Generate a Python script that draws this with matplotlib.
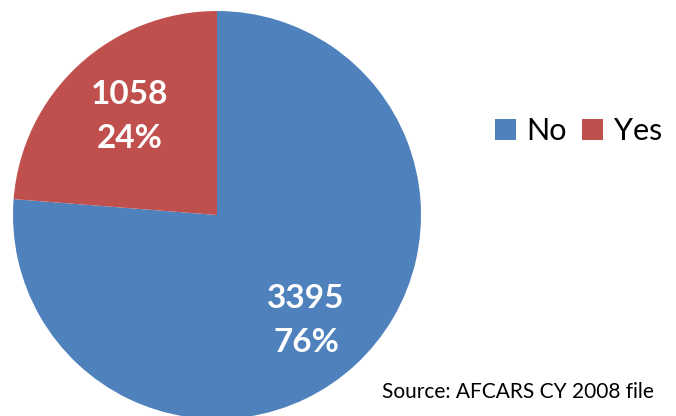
import matplotlib
matplotlib.use("Agg")
import matplotlib.pyplot as plt
from matplotlib.patches import Patch

categories = ["No", "Yes"]
counts = [3395, 1058]
percents = ["76%", "24%"]
colors = ["#4F81BD", "#C0504D"]
source_text = "Source: AFCARS CY 2008 file"

W, H = 676, 416
fig = plt.figure(figsize=(W / 100, H / 100), dpi=100)
fig.patch.set_facecolor("white")

cx, cy, r = 217, 215, 204
ax = fig.add_axes([(cx - r) / W, (H - cy - r) / H, 2 * r / W, 2 * r / H])
wedges, _ = ax.pie(counts, colors=colors, startangle=90, counterclock=False,
                   radius=1.0, wedgeprops=dict(linewidth=0))
ax.set_xlim(-1, 1)
ax.set_ylim(-1, 1)
ax.set_aspect("equal")
ax.axis("off")

font = "Lato"
# label centres in pixels: (x, y of count line, y of percent line)
label_px = [(306, 298, 343), (130, 95, 139)]
for (x, y1, y2), c, p in zip(label_px, counts, percents):
    ax.text((x - cx) / r, (cy - y1) / r, f"{c}", ha="center", va="center",
            color="white", fontsize=24, fontweight="bold", family=font)
    ax.text((x - cx) / r, (cy - y2) / r, p, ha="center", va="center",
            color="white", fontsize=24, fontweight="bold", family=font)

handles = [Patch(facecolor=col, edgecolor="none") for col in colors]
fig.legend(handles, categories, loc="center left",
           bbox_to_anchor=(495 / W, 1 - 131 / H), ncol=2, frameon=False,
           prop={"family": font, "size": 22}, handlelength=0.68, handleheight=0.68,
           handletextpad=0.35, columnspacing=0.5, borderaxespad=0, borderpad=0)

fig.text(382 / W, 1 - 392 / H, source_text, ha="left", va="center",
         fontsize=15, family=font, color="black")

fig.savefig("out.png", dpi=100, facecolor="white")
